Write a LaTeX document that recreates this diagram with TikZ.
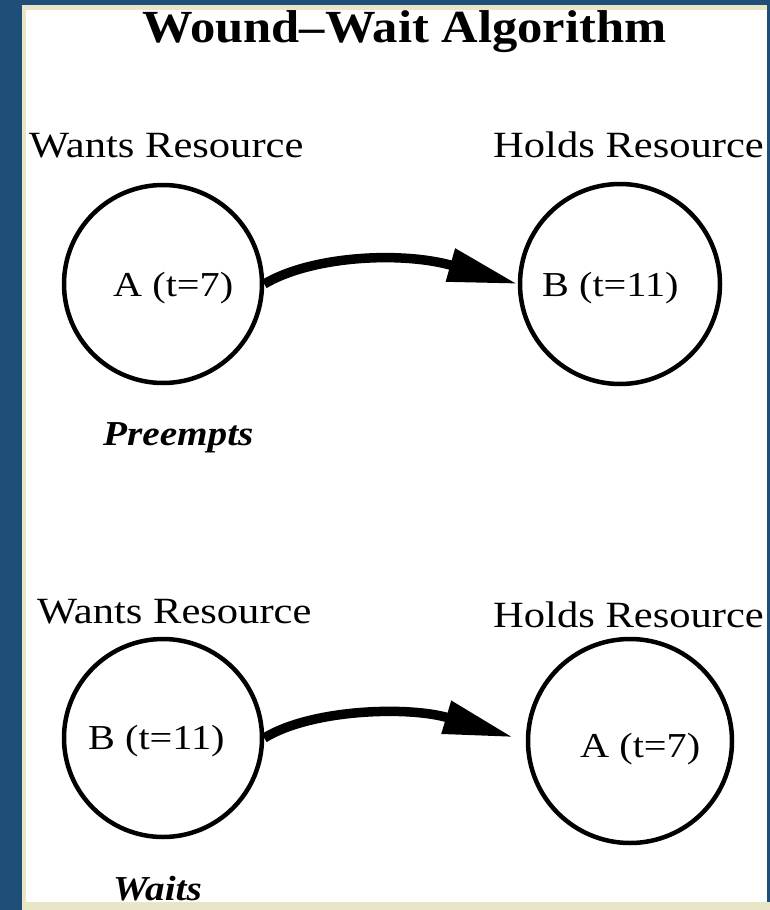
\documentclass[tikz,border=0pt]{standalone}
\usepackage{fontspec}
\setmainfont{Liberation Serif}
\usetikzlibrary{arrows.meta,calc}
\definecolor{frameblue}{HTML}{1F4E79}
\definecolor{framebeige}{HTML}{E8E6C6}
\tikzset{
  titletext/.style={inner sep=0pt, anchor=base west, xscale=1.1, font=\fontsize{46}{50}\selectfont\bfseries},
  roletext/.style={inner sep=0pt, anchor=base west, xscale=1.15, font=\fontsize{37}{40}\selectfont},
  proctext/.style={inner sep=0pt, anchor=base west, xscale=1.15, font=\fontsize{35}{38}\selectfont},
  actiontext/.style={inner sep=0pt, anchor=base west, xscale=1.12, font=\fontsize{35}{38}\selectfont\bfseries\itshape},
  proc/.style={circle, draw=black, line width=4.5pt, inner sep=0pt, minimum size=#1},
  proc/.default=200pt,
  flow/.style={line width=9.5pt, -{Triangle[length=70pt,width=32pt]}},
}
\begin{document}
\begin{tikzpicture}[x=1pt,y=-1pt]
\useasboundingbox (0,0) rectangle (770,910);
% frame
\fill[frameblue] (0,0) rectangle (770,910);
\fill[white] (22,8) rectangle (767,902);
\fill[framebeige] (22,5) rectangle (767,10);
\fill[framebeige] (22,10) rectangle (25.5,902);
\fill[framebeige] (22,902) rectangle (770,910);
% title
\node[titletext] (title) at (142,42) {Wound–Wait Algorithm};
% top scenario
\node[roletext] (want1) at (29,157) {Wants Resource};
\node[roletext] (hold1) at (493,157) {Holds Resource};
\node[proc=198pt] (c1) at (163,284) {};
\node[proc=200pt] (c2) at (620,284) {};
\node[proctext] (t1) at (113,296) {A (t=7)};
\node[proctext] (t2) at (542,296) {B (t=11)};
\draw[flow] (c1.east) .. controls ($(c1.east)+(47,-28)$) and ($(c2.west)+(-117,-33)$) .. (c2.west);
\node[actiontext] (pre) at (103,445) {Preempts};
% bottom scenario
\node[roletext] (want2) at (37,623) {Wants Resource};
\node[roletext] (hold2) at (493,627) {Holds Resource};
\node[proc=198pt] (c3) at (163,738) {};
\node[proc=204pt] (c4) at (630,741) {};
\node[proctext] (t3) at (88,749) {B (t=11)};
\node[proctext] (t4) at (580,757) {A (t=7)};
\draw[flow, shorten >=13pt] (c3.east) .. controls ($(c3.east)+(47,-29)$) and ($(c4.west)+(-117,-35)$) .. (c4.west);
\node[actiontext] (wait) at (113,900) {Waits};
\end{tikzpicture}
\end{document}
